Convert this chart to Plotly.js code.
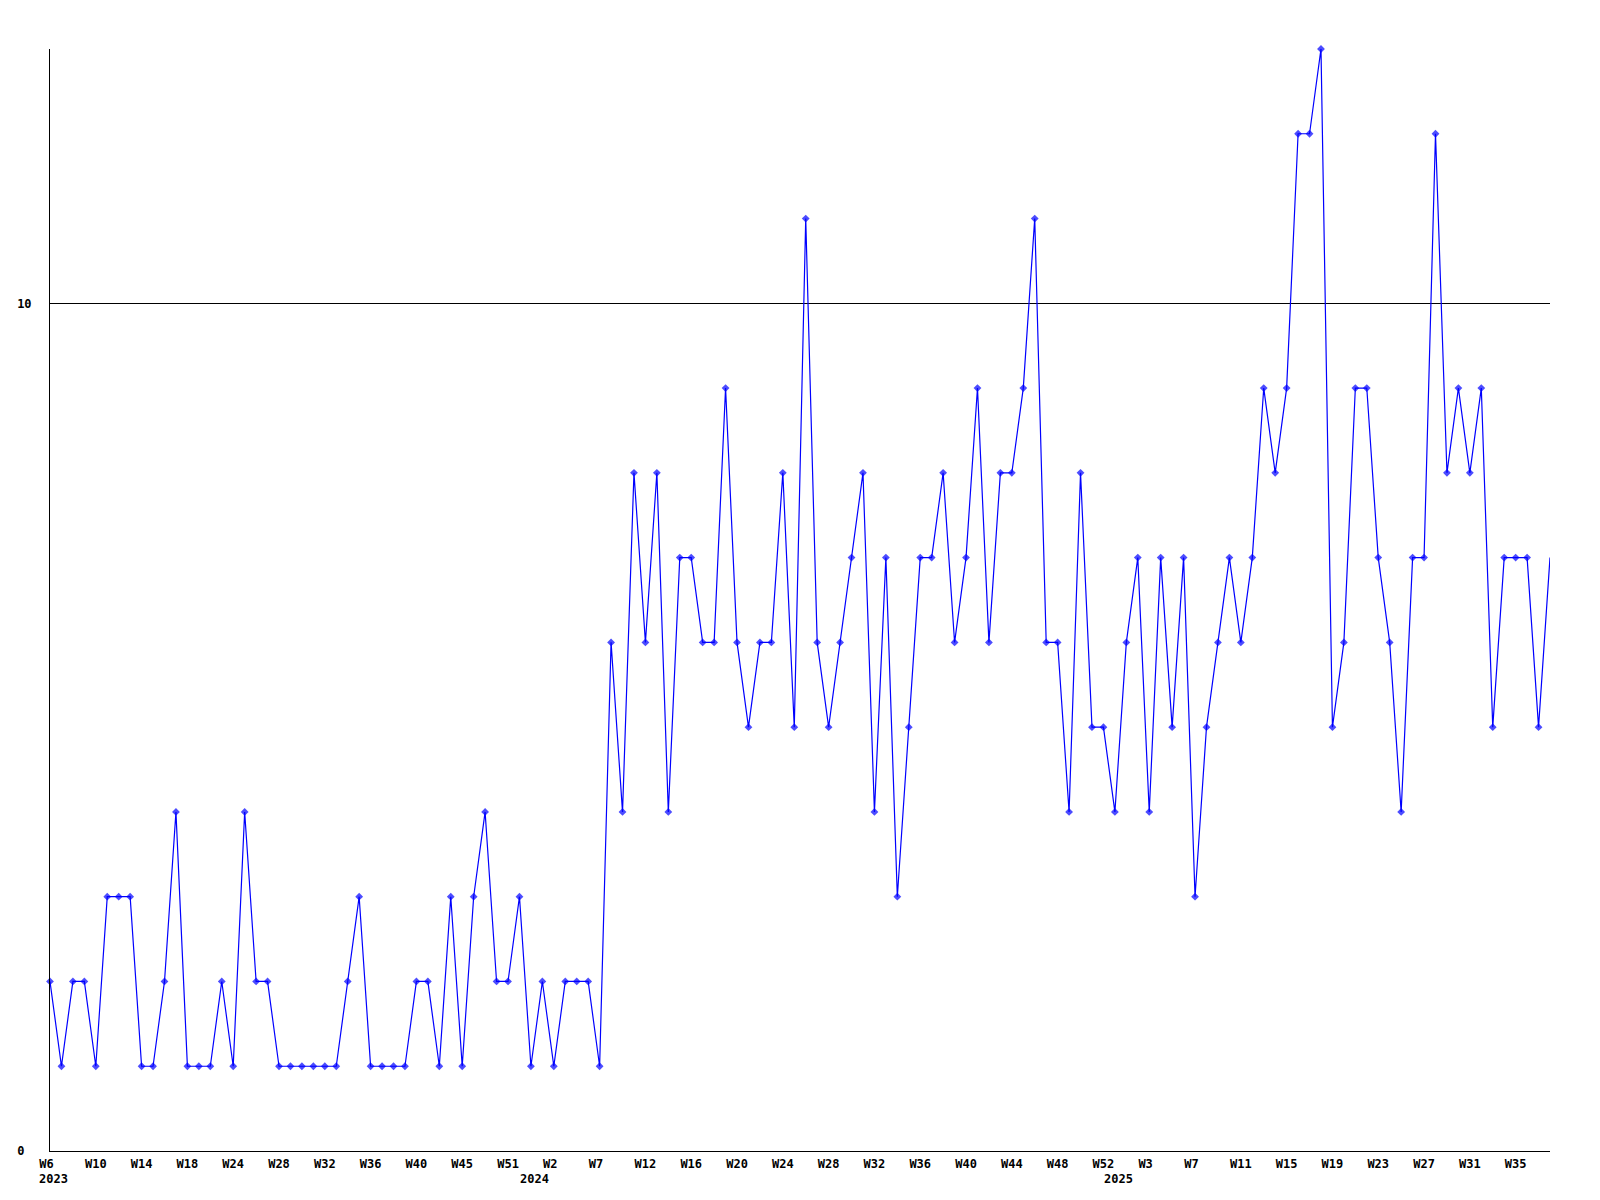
<!DOCTYPE html>
<html>
<head>
<meta charset="utf-8">
<script src="https://cdn.plot.ly/plotly-3.0.1.min.js"></script>
<style>html,body{margin:0;padding:0;background:#fff;}#chart{width:1600px;height:1200px;}</style>
</head>
<body>
<div id="chart"></div>
<script>
// Weekly counts, one value per plotted week (weeks with no entries are not plotted)
const values = [
  2,1,2,2,1,3,3,3,1,1,2,4,1,1,1,2,1,4,2,2,1,1,1,1,1,
  1,2,3,1,1,1,1,2,2,1,3,1,3,4,2,2,3,1,2,1,2,2,2,1,
  6,4,8,6,8,4,7,7,6,6,9,6,5,6,6,8,5,11,6,5,6,
  7,8,4,7,3,5,7,7,8,6,7,9,6,8,8,9,11,6,6,4,8,
  5,5,4,6,7,4,7,5,7,3,5,6,7,6,7,9,8,9,12,12,13,
  5,6,9,9,7,6,4,7,7,12,8,9,8,9,5,7,7,7,5,7
];
// Week tick labels, shown on every 4th plotted point
const weekLabels = ["W6","W10","W14","W18","W24","W28","W32","W36","W40","W45","W51","W2","W7",
  "W12","W16","W20","W24","W28","W32","W36","W40","W44","W48","W52","W3","W7","W11","W15",
  "W19","W23","W27","W31","W35"];
const weekLabelStep = 4;
// Year labels and the plotted point where each year begins
const years = ["2023","2024","2025"];
const yearStartIndex = [0, 42, 93];
// Y axis ticks
const yTickVals = [0, 10];
const yTickText = ["0", "10"];

const n = values.length;
const xs = values.map((v, i) => i);
const tickVals = weekLabels.map((w, i) => i * weekLabelStep);
const tickText = weekLabels.map(w => w.padEnd(3, "\u00a0"));
const markerSizes = values.map((v, i) => (i === n - 1 ? 0 : 6));

const font = {family: "DejaVu Sans Mono, Liberation Mono, monospace", size: 12, color: "#000", weight: "bold"};

const trace = {
  x: xs, y: values, type: "scatter", mode: "lines+markers",
  line: {color: "#0000ff", width: 1.2},
  marker: {color: "#0000ff", size: markerSizes, symbol: "diamond", line: {width: 0}},
  cliponaxis: false, hoverinfo: "x+y"
};

const annotations = years.map((y, i) => ({
  text: y, x: yearStartIndex[i], xref: "x", y: 0, yref: "paper",
  xanchor: "left", yanchor: "middle", xshift: -13, yshift: -28,
  showarrow: false, font: font
}));

const layout = {
  width: 1600, height: 1200,
  margin: {l: 50, r: 50, t: 49, b: 49, pad: 0},
  paper_bgcolor: "#fff", plot_bgcolor: "#fff",
  showlegend: false,
  font: font,
  xaxis: {
    range: [0, n - 1], showgrid: false, zeroline: false,
    showline: true, linecolor: "#000", linewidth: 1,
    tickmode: "array", tickvals: tickVals, ticktext: tickText,
    ticks: "", tickfont: font, ticklabelstandoff: 2, fixedrange: true
  },
  yaxis: {
    range: [0, 13], showgrid: true, gridcolor: "#000", gridwidth: 1,
    zeroline: false, showline: true, linecolor: "#000", linewidth: 1,
    tickmode: "array", tickvals: yTickVals, ticktext: yTickText.map(t => t.padEnd(2, "\u00a0")),
    ticks: "", tickfont: font, ticklabelstandoff: 15, fixedrange: true
  },
  annotations: annotations
};

Plotly.newPlot("chart", [trace], layout, {displayModeBar: false, staticPlot: true});
</script>
</body>
</html>
